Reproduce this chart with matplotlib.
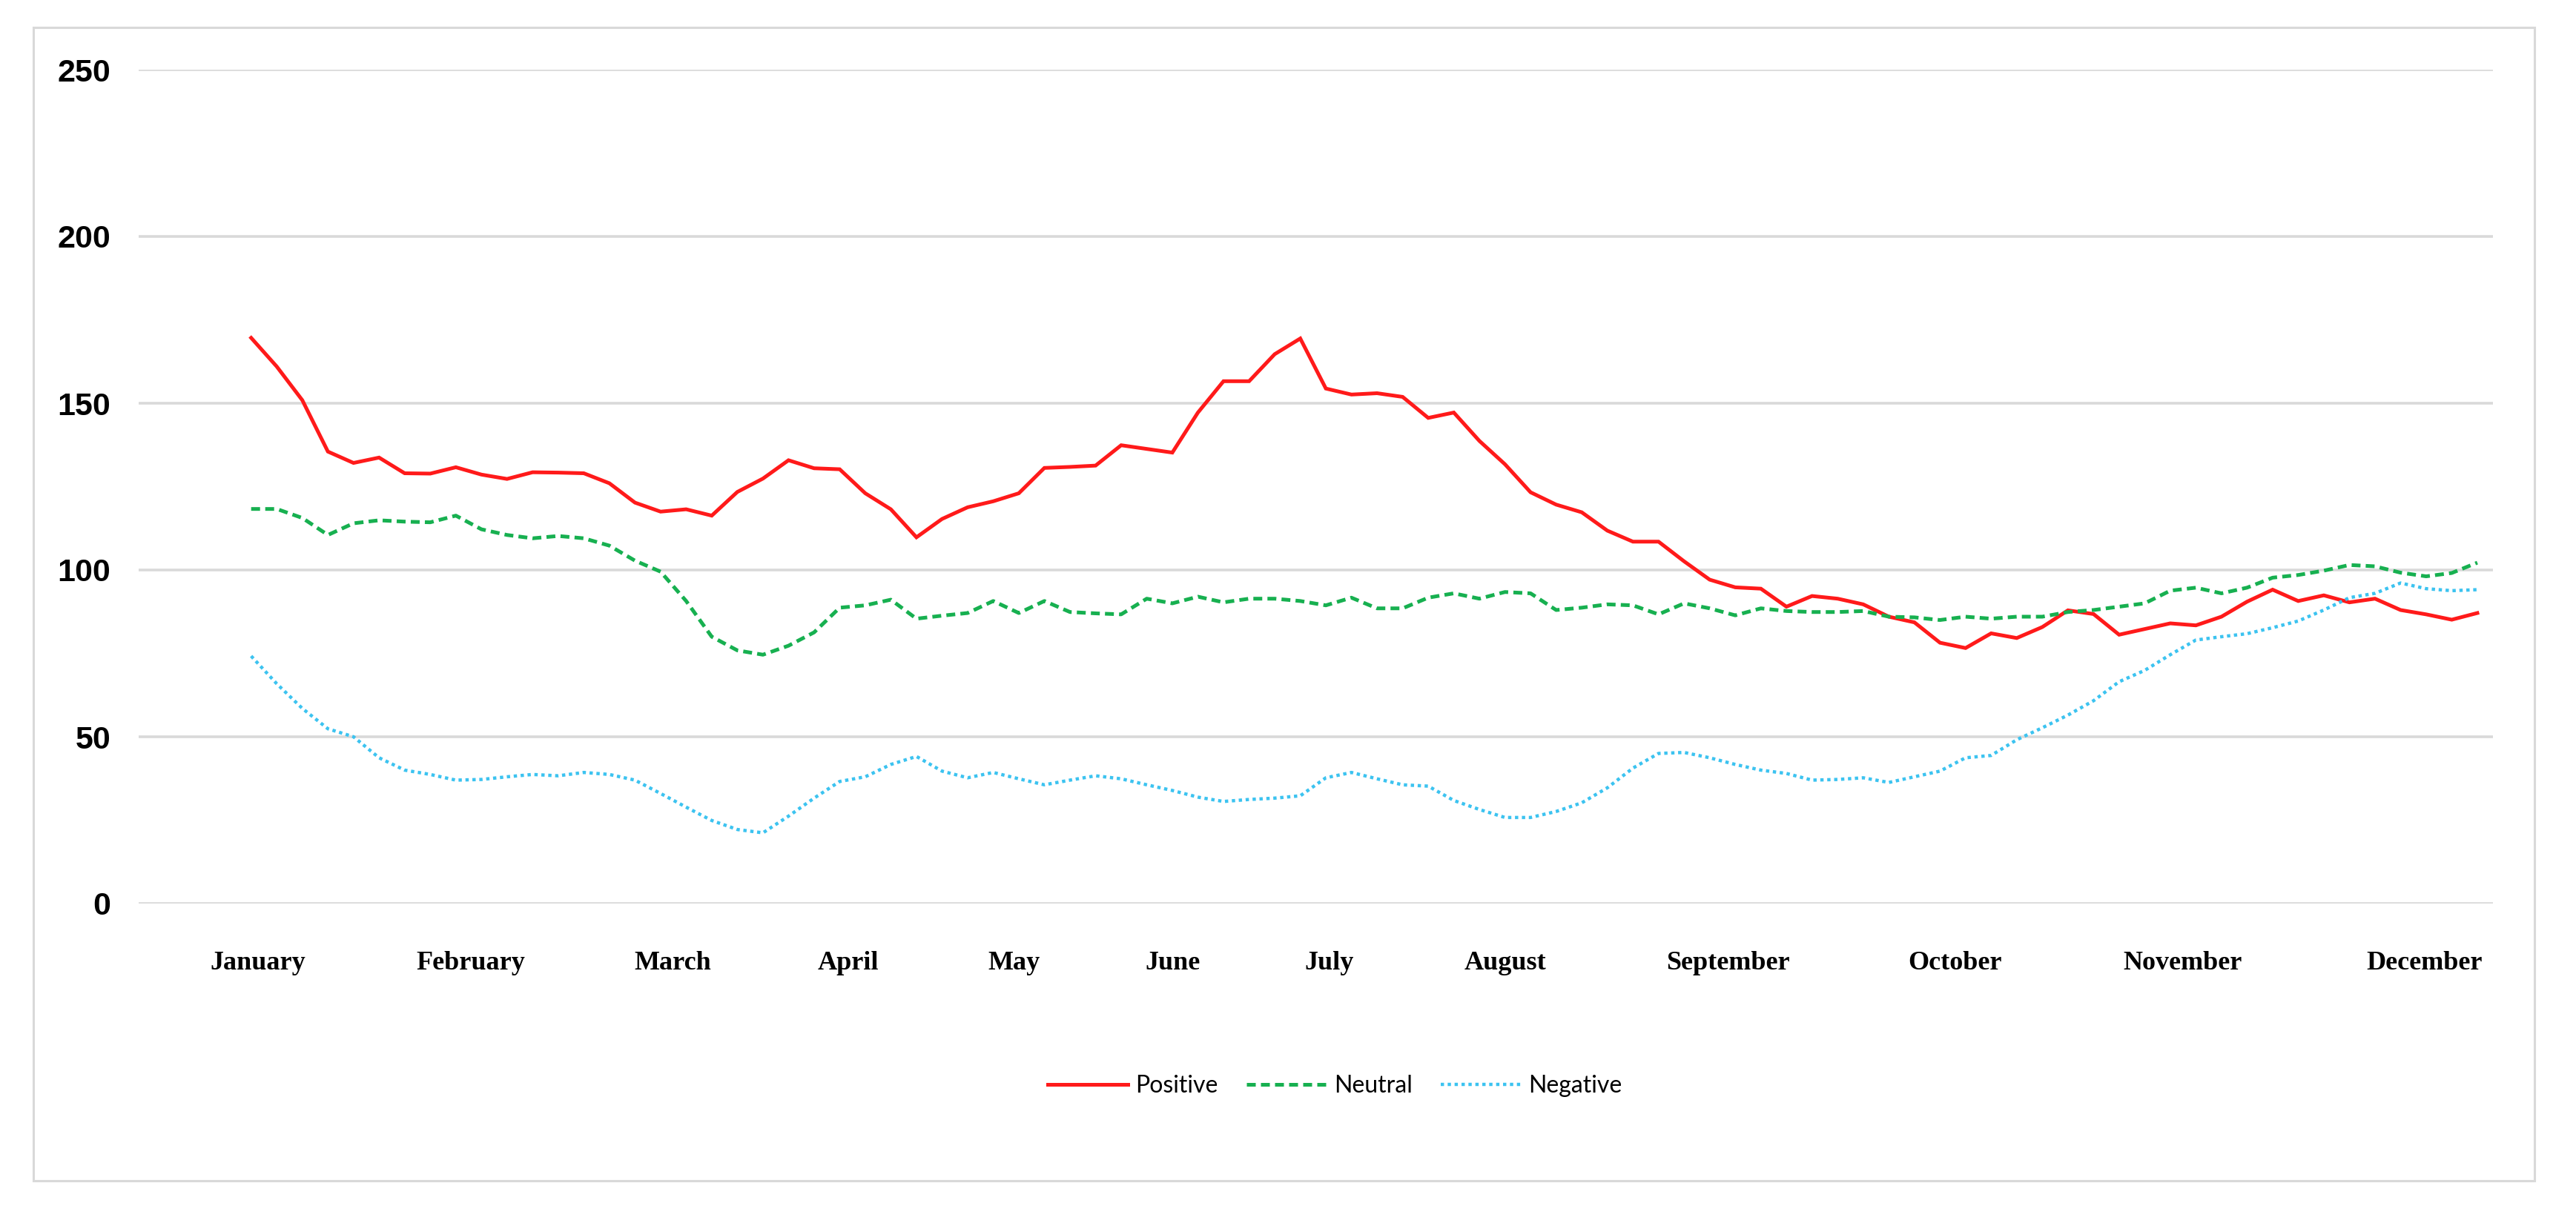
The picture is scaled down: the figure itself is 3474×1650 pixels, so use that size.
import matplotlib
matplotlib.use("Agg")
import matplotlib.pyplot as plt
from matplotlib.patches import Rectangle

# weekly sentiment counts
positive = [169.6, 161.0, 150.9, 135.5, 132.1, 133.7, 129.0, 128.9, 130.8, 128.6,
            127.3, 129.3, 129.2, 129.0, 126.0, 120.2, 117.5, 118.2, 116.3, 123.4,
            127.4, 132.9, 130.5, 130.2, 123.0, 118.2, 109.8, 115.3, 118.8, 120.6,
            123.0, 130.6, 130.9, 131.3, 137.4, 136.3, 135.2, 147.2, 156.6, 156.6,
            164.7, 169.4, 154.4, 152.6, 153.0, 151.9, 145.6, 147.2, 138.7, 131.7,
            123.3, 119.6, 117.3, 111.8, 108.5, 108.5, 102.6, 97.1, 94.8, 94.4,
            89.0, 92.2, 91.4, 89.7, 86.0, 84.3, 78.2, 76.6, 81.0, 79.6,
            82.9, 87.9, 86.8, 80.6, 82.3, 84.0, 83.4, 86.0, 90.5, 94.1,
            90.7, 92.4, 90.3, 91.4, 88.0, 86.7, 85.1, 87.1]

neutral = [118.3, 118.3, 115.6, 110.5, 114.0, 114.9, 114.5, 114.3, 116.3, 112.2,
           110.5, 109.5, 110.2, 109.5, 107.3, 102.8, 99.5, 90.7, 80.0, 75.9,
           74.6, 77.3, 81.3, 88.7, 89.4, 91.1, 85.4, 86.3, 87.1, 90.7,
           87.1, 90.7, 87.4, 87.0, 86.7, 91.4, 90.0, 92.0, 90.3, 91.4,
           91.4, 90.7, 89.4, 91.7, 88.5, 88.5, 91.7, 93.0, 91.4, 93.4,
           93.0, 88.0, 88.7, 89.7, 89.4, 86.7, 90.0, 88.5, 86.4, 88.5,
           87.7, 87.4, 87.4, 87.7, 86.0, 85.8, 85.0, 86.0, 85.4, 86.0,
           86.0, 87.4, 88.0, 89.0, 90.0, 93.8, 94.7, 93.0, 94.7, 97.7,
           98.5, 99.8, 101.5, 101.1, 99.2, 98.1, 99.1, 102.2]

negative = [74.2, 65.9, 58.5, 52.4, 50.0, 43.7, 40.0, 38.7, 37.0, 37.2,
            38.0, 38.7, 38.3, 39.3, 38.7, 37.0, 33.0, 28.9, 24.9, 22.2,
            21.2, 26.2, 31.6, 36.6, 38.0, 41.7, 44.1, 39.7, 37.7, 39.3,
            37.4, 35.6, 37.0, 38.3, 37.4, 35.6, 33.9, 31.9, 30.6, 31.2,
            31.6, 32.3, 37.7, 39.3, 37.4, 35.6, 35.2, 30.9, 28.2, 25.8,
            25.8, 27.6, 30.2, 34.7, 40.6, 45.0, 45.3, 43.7, 41.7, 40.0,
            39.0, 37.0, 37.2, 37.7, 36.3, 38.0, 39.7, 43.7, 44.4, 49.1,
            52.7, 56.5, 60.8, 66.5, 69.9, 74.6, 79.0, 80.0, 80.9, 82.7,
            84.7, 88.0, 91.7, 93.0, 96.1, 94.4, 93.8, 94.1]

months = ["January", "February", "March", "April", "May", "June", "July",
          "August", "September", "October", "November", "December"]
# week index where each month label sits
month_pos = [0.27, 8.59, 16.47, 23.34, 29.82, 36.03, 42.14, 49.01, 57.73,
             66.60, 75.49, 84.94]

weeks = list(range(len(positive)))

W, H = 3474, 1650
fig = plt.figure(figsize=(W / 100, H / 100), dpi=100)
fig.patch.set_facecolor("white")

# outer chart border
fig.patches.append(Rectangle((45 / W, 1 - 1593 / H), (3418 - 45) / W, (1593 - 37) / H,
                             transform=fig.transFigure, fill=False,
                             edgecolor="#d9d9d9", linewidth=2.2))

ax = fig.add_axes([187 / W, 1 - 1219 / H, (3362 - 187) / W, (1219 - 94) / H])

lw = 3.6
ax.plot(weeks, positive, color="#ff1a1a", linewidth=lw, label="Positive",
        solid_joinstyle="miter")
ax.plot(weeks, neutral, color="#17b050", linewidth=lw, label="Neutral",
        linestyle=(0, (2.4, 1.4)), dash_capstyle="butt")
ax.plot(weeks, negative, color="#3cc3f0", linewidth=3.2, label="Negative",
        linestyle=(0, (1.0, 1.1)), dash_capstyle="butt")

ax.set_xlim(-4.396, 87.61)
ax.set_ylim(0, 250)
ax.set_yticks([0, 50, 100, 150, 200, 250])
ax.grid(axis="y", color="#d9d9d9", linewidth=2.6)
ax.set_axisbelow(True)
for s in ax.spines.values():
    s.set_visible(False)
ax.tick_params(axis="both", length=0)
ax.tick_params(axis="y", pad=27)
ax.tick_params(axis="x", pad=46)

ax.set_xticks(month_pos)
ax.set_xticklabels(months, fontfamily="Liberation Serif", fontweight="bold",
                   fontsize=26)
for t in ax.get_yticklabels():
    t.set_fontfamily("Liberation Sans")
    t.set_fontweight("bold")
    t.set_fontsize(31)

leg = fig.legend(loc="center", bbox_to_anchor=(1800 / W, 1 - 1465 / H), ncol=3,
                 frameon=False, prop={"family": "Lato", "size": 23},
                 handlelength=3.4, handletextpad=0.3, columnspacing=1.2)

fig.savefig("out.png", dpi=100, facecolor="white")
